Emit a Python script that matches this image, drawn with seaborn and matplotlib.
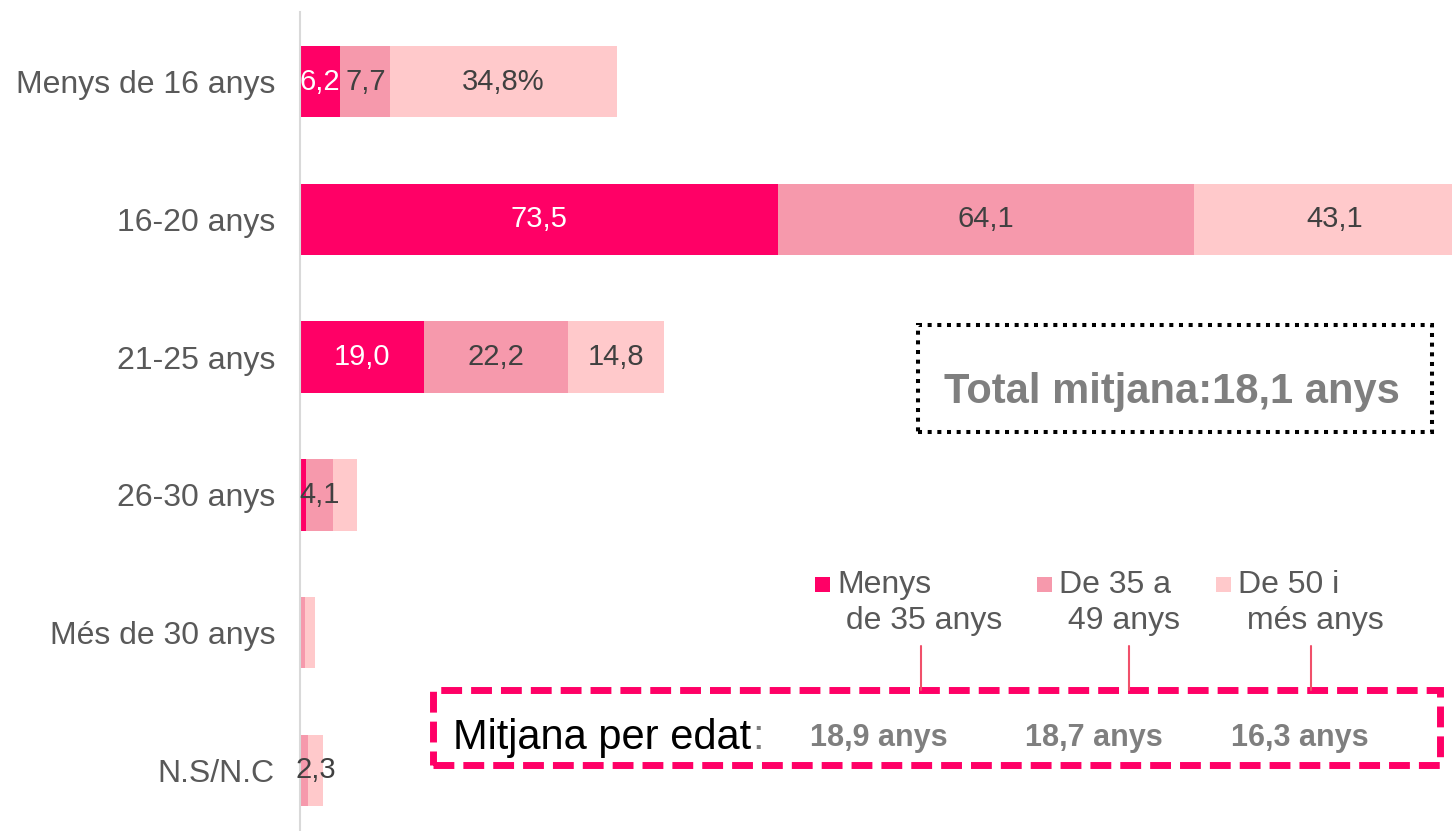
import numpy as np
import pandas as pd
import matplotlib
matplotlib.use("Agg")
import matplotlib.pyplot as plt
from matplotlib.patches import Rectangle
from matplotlib.lines import Line2D
import seaborn as sns

# --------------------------------------------------
# Dades
# --------------------------------------------------
categories = ["Menys de 16 anys", "16-20 anys", "21-25 anys",
              "26-30 anys", "Més de 30 anys", "N.S/N.C"]
series_names = ["Menys\n de 35 anys", "De 35 a\n 49 anys", "De 50 i\n més anys"]

menys_35 = [6.2, 73.5, 19.0, 0.9, 0.0, 0.2]
de_35_49 = [7.7, 64.1, 22.2, 4.1, 0.8, 1.1]
de_50_mes = [34.8, 43.1, 14.8, 3.7, 1.5, 2.3]

labels_menys_35 = ["6,2", "73,5", "19,0", "", "", ""]
labels_35_49 = ["7,7", "64,1", "22,2", "4,1", "", ""]
labels_50_mes = ["34,8%", "43,1", "14,8", "", "", "2,3"]

mitjanes = ["18,9 anys", "18,7 anys", "16,3 anys"]
total_mitjana = "Total mitjana:18,1 anys"

colors = ["#FF0066", "#F699AC", "#FFC9CB"]

# --------------------------------------------------
# Estil
# --------------------------------------------------
sns.set_style("white")
plt.rcParams["font.family"] = ["Liberation Sans", "DejaVu Sans"]

W, H = 1452, 831
fig = plt.figure(figsize=(W / 100, H / 100), dpi=100)
fig.patch.set_facecolor("white")


def fx(px):
    return px / W


def fy(py):
    return 1 - py / H


ax = fig.add_axes([fx(300), 0, 1170 / W, 1 - 12 / H])

series = [menys_35, de_35_49, de_50_mes]
cum = np.cumsum(np.array(series), axis=0)

# barres apilades: es dibuixa primer el total i després els acumulats menors
for k in [2, 1, 0]:
    df = pd.DataFrame({"cat": categories, "val": cum[k]})
    sns.barplot(data=df, y="cat", x="val", orient="h", color=colors[k],
                saturation=1, width=0.52, order=categories, ax=ax,
                edgecolor="none", linewidth=0)

# etiquetes de valors
all_labels = [labels_menys_35, labels_35_49, labels_50_mes]
for k in range(3):
    lefts = cum[k] - np.array(series[k])
    for i, lab in enumerate(all_labels[k]):
        if not lab:
            continue
        ax.text(lefts[i] + series[k][i] / 2, i, lab, ha="center", va="center",
                fontsize=21, color="white" if k == 0 else "#404040")

ax.set_xlim(0, 180)
ax.set_ylim(5.44, -0.505)
ax.set_xlabel("")
ax.set_ylabel("")
ax.set_xticks([])
ax.tick_params(axis="y", length=0, pad=18, labelsize=23, labelcolor="#595959")
for s in ["top", "right", "bottom"]:
    ax.spines[s].set_visible(False)
ax.spines["left"].set_color("#d9d9d9")
ax.spines["left"].set_linewidth(1.5)

# --------------------------------------------------
# Caixa total
# --------------------------------------------------
fig.add_artist(Rectangle((fx(918), fy(432)), fx(1432) - fx(918), fy(325) - fy(432),
                         transform=fig.transFigure, fill=False, edgecolor="black",
                         linewidth=2.9, linestyle=(0, (1, 1.4))))
fig.text(fx(1172), fy(403), total_mitjana, ha="center", va="baseline",
         fontsize=30, fontweight="bold", color="#7f7f7f")

# --------------------------------------------------
# Llegenda
# --------------------------------------------------
legend_x = [815, 1037, 1216]
for k in range(3):
    fig.add_artist(Rectangle((fx(legend_x[k]), fy(592)), 15 / W, 15 / H,
                             transform=fig.transFigure, facecolor=colors[k],
                             edgecolor="none"))
    fig.text(fx(legend_x[k] + 22), fy(570), series_names[k], ha="left", va="top",
             fontsize=23, color="#595959", linespacing=1.28)

# línies de connexió
conn_x = [921, 1129, 1311]
for x in conn_x:
    fig.add_artist(Line2D([fx(x), fx(x)], [fy(646), fy(690)],
                          transform=fig.transFigure, color="#F0506A", linewidth=1.5))

# --------------------------------------------------
# Caixa mitjana per edat
# --------------------------------------------------
fig.add_artist(Rectangle((fx(433), fy(765)), fx(1440) - fx(433), fy(690) - fy(765),
                         transform=fig.transFigure, fill=False, edgecolor="#FF0066",
                         linewidth=5, linestyle=(0, (3, 1.3))))
t = fig.text(fx(453), fy(749), "Mitjana per edat", ha="left", va="baseline",
             fontsize=30, color="black")
ax.annotate(":", xy=(1, 0), xycoords=t, xytext=(1, 0), textcoords="offset points",
            ha="left", va="bottom", fontsize=30, color="#7f7f7f",
            annotation_clip=False)
val_x = [879, 1094, 1300]
for x, m in zip(val_x, mitjanes):
    fig.text(fx(x), fy(746), m, ha="center", va="baseline",
             fontsize=22, fontweight="bold", color="#7f7f7f")

fig.savefig("out.png", dpi=100)
plt.close(fig)
